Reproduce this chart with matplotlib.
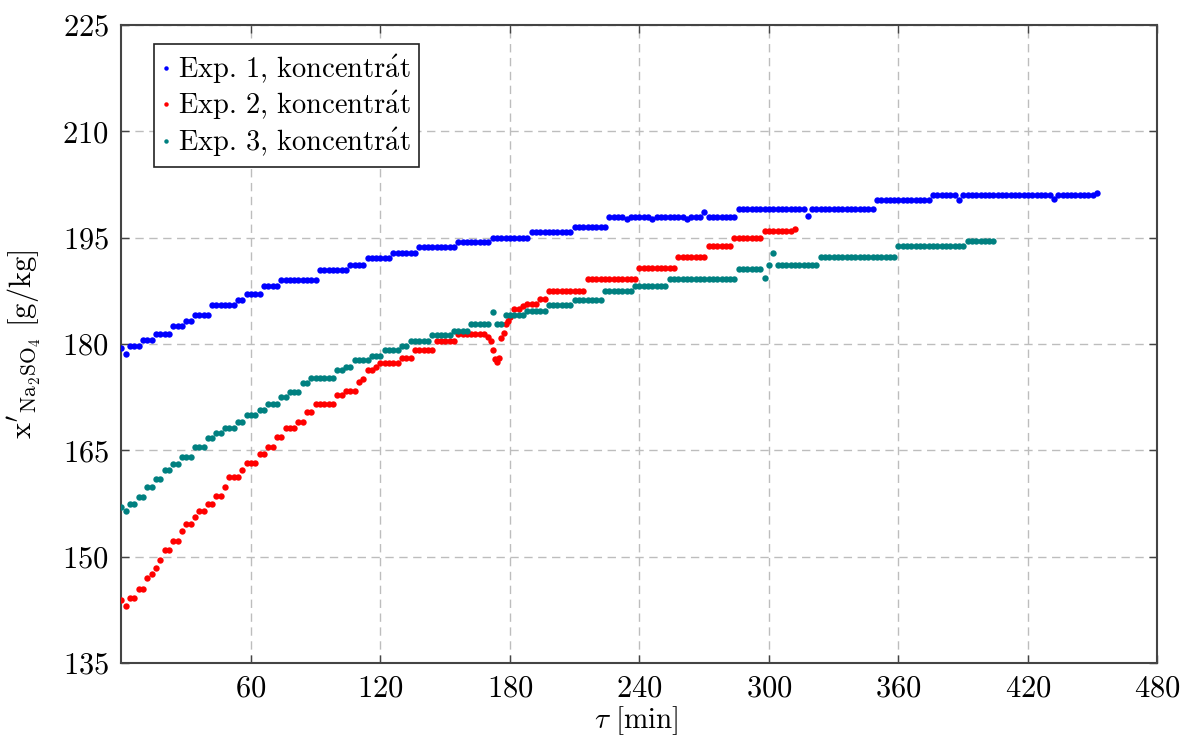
import numpy as np
import matplotlib
matplotlib.use("Agg")
import matplotlib.pyplot as plt

plt.rcParams["font.family"] = "serif"
plt.rcParams["font.serif"] = ["cmr10"]
plt.rcParams["mathtext.fontset"] = "cm"
plt.rcParams["axes.formatter.use_mathtext"] = True

# ---------------- data ----------------
labels = [r"$\mathrm{Exp.\,1,\,koncentr\acute{a}t}$",
          r"$\mathrm{Exp.\,2,\,koncentr\acute{a}t}$",
          r"$\mathrm{Exp.\,3,\,koncentr\acute{a}t}$"]
colors = ["#0000ff", "#ff0000", "#008080"]

# sampling times [min] (every 2 min)
t1 = np.arange(0, 453, 2)
t2 = np.arange(0, 313, 2)
t3 = np.arange(0, 405, 2)

exp1 = [
    179.5, 178.6, 179.8, 179.8, 179.8, 180.6, 180.6, 180.6, 181.4, 181.4,
    181.4, 181.4, 182.6, 182.6, 182.6, 183.2, 183.2, 184.1, 184.1, 184.1,
    184.1, 185.5, 185.5, 185.5, 185.5, 185.5, 185.5, 186.2, 186.2, 187.0,
    187.0, 187.0, 187.0, 188.2, 188.2, 188.2, 188.2, 189.1, 189.1, 189.1,
    189.1, 189.1, 189.1, 189.1, 189.1, 189.1, 190.5, 190.5, 190.5, 190.5,
    190.5, 190.5, 190.5, 191.1, 191.1, 191.1, 191.1, 192.1, 192.1, 192.1,
    192.1, 192.1, 192.1, 192.8, 192.8, 192.8, 192.8, 192.8, 192.8, 193.7,
    193.7, 193.7, 193.7, 193.7, 193.7, 193.7, 193.7, 193.7, 194.4, 194.4,
    194.4, 194.4, 194.4, 194.4, 194.4, 194.4, 194.9, 194.9, 194.9, 194.9,
    194.9, 194.9, 194.9, 194.9, 194.9, 195.8, 195.8, 195.8, 195.8, 195.8,
    195.8, 195.8, 195.8, 195.8, 195.8, 196.5, 196.5, 196.5, 196.5, 196.5,
    196.5, 196.5, 196.5, 198.0, 198.0, 198.0, 198.0, 197.6, 198.0, 198.0,
    198.0, 198.0, 198.0, 197.6, 198.0, 198.0, 198.0, 198.0, 198.0, 198.0,
    198.0, 197.6, 198.0, 198.0, 198.0, 198.7, 198.0, 198.0, 198.0, 198.0,
    198.0, 198.0, 198.0, 199.0, 199.0, 199.0, 199.0, 199.0, 199.0, 199.0,
    199.0, 199.0, 199.0, 199.0, 199.0, 199.0, 199.0, 199.0, 199.0, 198.1,
    199.0, 199.0, 199.0, 199.0, 199.0, 199.0, 199.0, 199.0, 199.0, 199.0,
    199.0, 199.0, 199.0, 199.0, 199.0, 200.4, 200.4, 200.4, 200.4, 200.4,
    200.4, 200.4, 200.4, 200.4, 200.4, 200.4, 200.4, 200.4, 201.0, 201.0,
    201.0, 201.0, 201.0, 201.0, 200.4, 201.0, 201.0, 201.0, 201.0, 201.0,
    201.0, 201.0, 201.0, 201.0, 201.0, 201.0, 201.0, 201.0, 201.0, 201.0,
    201.0, 201.0, 201.0, 201.0, 201.0, 201.0, 200.5, 201.0, 201.0, 201.0,
    201.0, 201.0, 201.0, 201.0, 201.0, 201.0, 201.3,
]

exp2 = [
    143.9, 143.0, 144.2, 144.2, 145.4, 145.4, 147.0, 147.6, 148.4, 149.6,
    151.0, 151.0, 152.2, 152.2, 153.6, 154.6, 154.6, 155.6, 156.5, 156.5,
    157.4, 157.4, 158.6, 158.6, 159.8, 161.2, 161.2, 161.2, 162.2, 163.2,
    163.2, 163.2, 164.5, 164.5, 165.5, 165.5, 166.9, 166.9, 168.1, 168.1,
    168.1, 169.0, 169.0, 170.4, 170.4, 171.5, 171.5, 171.5, 171.5, 171.5,
    172.8, 172.8, 173.4, 173.4, 173.4, 174.7, 175.1, 176.4, 176.4, 176.7,
    177.3, 177.3, 177.3, 177.3, 177.3, 178.1, 178.1, 178.1, 179.1, 179.1,
    179.1, 179.1, 179.1, 180.5, 180.5, 180.5, 180.5, 180.5, 181.4, 181.4,
    181.4, 181.4, 181.4, 181.4, 181.4, 181.0, 179.1, 177.5, 180.9, 182.8,
    183.8, 184.9, 184.9, 185.4, 185.7, 185.7, 185.7, 186.3, 186.3, 187.5,
    187.5, 187.5, 187.5, 187.5, 187.5, 187.5, 187.5, 187.5, 189.2, 189.2,
    189.2, 189.2, 189.2, 189.2, 189.2, 189.2, 189.2, 189.2, 189.2, 189.2,
    190.7, 190.7, 190.7, 190.7, 190.7, 190.7, 190.7, 190.7, 190.7, 192.3,
    192.3, 192.3, 192.3, 192.3, 192.3, 192.3, 193.9, 193.9, 193.9, 193.9,
    193.9, 193.9, 195.0, 195.0, 195.0, 195.0, 195.0, 195.0, 195.0, 195.9,
    195.9, 195.9, 195.9, 195.9, 195.9, 195.9, 196.2,
]
# extra samples recorded in the dip around 170-180 min
t2_dip = [171, 173, 175, 177, 179]
exp2_dip = [180.5, 177.9, 178.1, 181.6, 183.3]

exp3 = [
    157.0, 156.5, 157.4, 157.4, 158.4, 158.4, 159.8, 159.8, 161.0, 161.0,
    162.2, 162.2, 163.1, 163.1, 164.1, 164.1, 164.1, 165.5, 165.5, 165.5,
    166.7, 166.7, 167.4, 167.4, 168.1, 168.1, 168.1, 169.0, 169.0, 170.0,
    170.0, 170.0, 170.7, 170.7, 171.6, 171.6, 171.6, 172.6, 172.6, 173.3,
    173.3, 173.3, 174.5, 174.5, 175.2, 175.2, 175.2, 175.2, 175.2, 175.2,
    176.3, 176.3, 176.8, 176.8, 177.7, 177.7, 177.7, 177.7, 178.3, 178.3,
    178.3, 179.2, 179.2, 179.2, 179.2, 179.8, 179.8, 180.5, 180.5, 180.5,
    180.5, 180.5, 181.3, 181.3, 181.3, 181.3, 181.3, 181.8, 181.8, 181.8,
    181.8, 182.8, 182.8, 182.8, 182.8, 182.8, 184.5, 182.8, 182.8, 184.1,
    184.1, 184.1, 184.1, 184.1, 184.6, 184.6, 184.6, 184.6, 184.6, 185.5,
    185.5, 185.5, 185.5, 185.5, 185.5, 186.2, 186.2, 186.2, 186.2, 186.2,
    186.2, 186.2, 187.5, 187.5, 187.5, 187.5, 187.5, 187.5, 187.5, 188.2,
    188.2, 188.2, 188.2, 188.2, 188.2, 188.2, 188.2, 189.2, 189.2, 189.2,
    189.2, 189.2, 189.2, 189.2, 189.2, 189.2, 189.2, 189.2, 189.2, 189.2,
    189.2, 189.2, 189.2, 190.6, 190.6, 190.6, 190.6, 190.6, 190.6, 189.3,
    191.2, 192.9, 191.2, 191.2, 191.2, 191.2, 191.2, 191.2, 191.2, 191.2,
    191.2, 191.2, 192.3, 192.3, 192.3, 192.3, 192.3, 192.3, 192.3, 192.3,
    192.3, 192.3, 192.3, 192.3, 192.3, 192.3, 192.3, 192.3, 192.3, 192.3,
    193.8, 193.8, 193.8, 193.8, 193.8, 193.8, 193.8, 193.8, 193.8, 193.8,
    193.8, 193.8, 193.8, 193.8, 193.8, 193.8, 194.5, 194.5, 194.5, 194.5,
    194.5, 194.5, 194.5,
]

x_ticks = [60, 120, 180, 240, 300, 360, 420, 480]
y_ticks = [135, 150, 165, 180, 195, 210, 225]

# ---------------- figure ----------------
fig = plt.figure(figsize=(11.97, 7.40), dpi=100)
ax = fig.add_axes([0.1015, 0.104, 0.8655, 0.862])

ms = 4.6
ax.plot(t1, exp1, "o", color=colors[0], ms=ms, mec="none", label=labels[0], zorder=3)
ax.plot(np.concatenate([t2, t2_dip]), np.concatenate([exp2, exp2_dip]), "o",
        color=colors[1], ms=ms, mec="none", label=labels[1], zorder=3)
ax.plot(t3, exp3, "o", color=colors[2], ms=ms, mec="none", label=labels[2], zorder=3)

ax.set_xlim(0, 480)
ax.set_ylim(135, 225)
ax.set_xticks(x_ticks)
ax.set_yticks(y_ticks)
ax.tick_params(direction="in", length=6, width=1, top=True, right=True,
               labelsize=22, color="#444444", pad=9)
ax.grid(True, color="#bdbdbd", linestyle=(0, (6, 4)), linewidth=1.0, zorder=0)
for s in ax.spines.values():
    s.set_color("#444444")
    s.set_linewidth(1.5)

ax.set_xlabel(r"$\tau\ [\mathrm{min}]$", fontsize=21)
ax.xaxis.set_label_coords(0.497, -0.064)
ax.set_ylabel(r"$\mathrm{x}'_{\mathrm{Na_2SO_4}}\ [\mathrm{g/kg}]$", fontsize=22)
ax.yaxis.set_label_coords(-0.076, 0.5)

leg = ax.legend(loc="upper left", bbox_to_anchor=(0.031, 0.970), borderaxespad=0,
                fontsize=20.5, numpoints=1, handlelength=0.25, handletextpad=0.3,
                labelspacing=0.12, borderpad=0.3, fancybox=False, framealpha=1,
                edgecolor="#222222", markerscale=0.7)
leg.get_frame().set_linewidth(1.2)

fig.savefig("out.png", dpi=100)
